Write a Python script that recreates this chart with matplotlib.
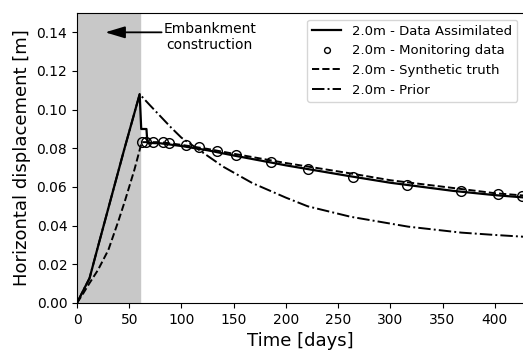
import numpy as np
import matplotlib.pyplot as plt

# data assimilated (solid)
t_da = [0, 6, 12, 19, 30, 45, 60, 61.5, 62, 66.5, 67, 68, 80, 100, 125, 150, 200, 260, 300, 360, 400, 430]
u_da = [0, 0.0065, 0.0128, 0.027, 0.049, 0.079, 0.108, 0.090, 0.090, 0.090, 0.086, 0.0828, 0.0826, 0.0812, 0.0790, 0.0763, 0.0712, 0.0657, 0.0622, 0.0580, 0.0558, 0.0545]

# monitoring data (circles)
t_mon = [62, 66, 73, 82, 88.5, 104, 117, 134, 152, 186, 221, 264, 316, 368, 403, 426]
u_mon = [0.0831, 0.0835, 0.0835, 0.0833, 0.0830, 0.0817, 0.0805, 0.0788, 0.0768, 0.0727, 0.0691, 0.0650, 0.0610, 0.0580, 0.0562, 0.0552]

# synthetic truth (dashed)
t_tr = [0, 6, 12, 20, 30, 40, 46, 55, 62, 80, 100, 125, 150, 200, 260, 300, 360, 400, 430]
u_tr = [0, 0.005, 0.0103, 0.017, 0.0274, 0.043, 0.053, 0.069, 0.0832, 0.0832, 0.0818, 0.0797, 0.0772, 0.0724, 0.0672, 0.0635, 0.0595, 0.0568, 0.0555]

# prior (dash-dot)
t_pr = [0, 6, 12, 19, 30, 45, 60, 70, 80, 90, 100, 116, 140, 168, 200, 221, 262, 317, 368, 400, 430]
u_pr = [0, 0.0065, 0.0128, 0.027, 0.049, 0.079, 0.108, 0.1022, 0.0965, 0.0908, 0.0855, 0.0795, 0.0705, 0.062, 0.0545, 0.050, 0.0446, 0.0395, 0.0364, 0.0352, 0.0342]

fig = plt.figure(figsize=(5.23, 3.51), dpi=100)
ax = fig.add_axes([77/523, 48/351, 447/523, 290/351])

ax.axvspan(0, 60, color='#c8c8c8', zorder=0)
ax.plot(t_da, u_da, 'k-', lw=1.6, label='2.0m - Data Assimilated')
ax.plot(t_mon, u_mon, 'o', color='k', mfc='none', ms=7, mew=1.0, label='2.0m - Monitoring data')
ax.plot(t_tr, u_tr, 'k--', lw=1.4, label='2.0m - Synthetic truth')
ax.plot(t_pr, u_pr, 'k-.', lw=1.4, label='2.0m - Prior')

# arrow pointing into the construction period
ax.annotate('', xy=(27, 0.140), xytext=(81, 0.140),
            arrowprops=dict(arrowstyle='-|>,head_length=0.6,head_width=0.18', color='k',
                            lw=1.3, mutation_scale=20, shrinkA=0, shrinkB=0))
ax.text(127, 0.1375, 'Embankment\nconstruction', ha='center', va='center', fontsize=10)

ax.set_xlim(0, 428)
ax.set_ylim(0, 0.15)
ax.set_yticks(np.arange(0, 0.141, 0.02))
ax.tick_params(labelsize=10)
ax.set_xlabel('Time [days]', fontsize=13)
ax.set_ylabel('Horizontal displacement [m]', fontsize=13)
ax.legend(loc='upper right', fontsize=9.5, handlelength=2.2, markerscale=0.6)

fig.savefig('out.png', dpi=100)
